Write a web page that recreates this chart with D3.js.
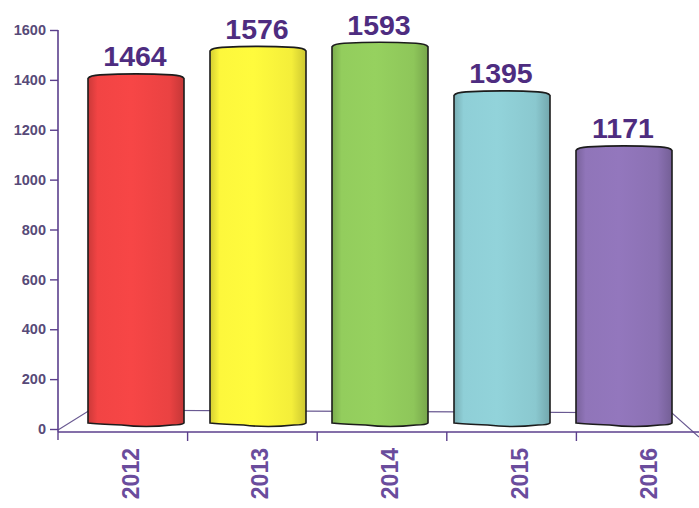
<!DOCTYPE html>
<html>
<head>
<meta charset="utf-8">
<script src="https://cdn.jsdelivr.net/npm/d3@7"></script>
<style>
  body { margin: 0; background: #fff; }
  svg { display: block; font-family: "Liberation Sans", Arial, sans-serif; }
</style>
</head>
<body>
<svg width="699" height="508"></svg>
<script>
// chart data
var years = ["2012", "2013", "2014", "2015", "2016"];
var counts = [1464, 1576, 1593, 1395, 1171];
var yTicks = [0, 200, 400, 600, 800, 1000, 1200, 1400, 1600];
var barColors = ["#ea4242", "#f4ee3a", "#8ec65a", "#8ac8cf", "#8b71b3"];

var svg = d3.select("svg");

// front plane (axes) and back plane (bars) scales
var y = d3.scaleLinear().domain([0, 1600]).range([429, 30]);
var yBar = d3.scaleLinear().domain([0, 1600]).range([435, 42]);
var x = d3.scaleBand().domain(years).range([58, 706]);
var xBar = d3.scalePoint().domain(years).range([136, 624]);
var barW = 96;

// gradients for cylinder look
var defs = svg.append("defs");
barColors.forEach(function(c, i) {
  var g = defs.append("linearGradient").attr("id", "grad" + i)
    .attr("x1", "0%").attr("x2", "100%");
  var base = d3.color(c);
  g.append("stop").attr("offset", "0%").attr("stop-color", base.darker(0.4));
  g.append("stop").attr("offset", "10%").attr("stop-color", base.brighter(0.1));
  g.append("stop").attr("offset", "45%").attr("stop-color", base.brighter(0.15));
  g.append("stop").attr("offset", "85%").attr("stop-color", base);
  g.append("stop").attr("offset", "100%").attr("stop-color", base.darker(0.5));
});

// floor of the 3d plot
svg.append("path")
  .attr("d", "M58,430 L90,410 L672,413 L699,437")
  .attr("fill", "none")
  .attr("stroke", "#6a5a92")
  .attr("stroke-width", 1.2);

// bars
var data = years.map(function(d, i) { return { year: d, value: counts[i], i: i }; });

function cyl(d) {
  var l = xBar(d.year) - barW / 2, r = l + barW;
  var t = yBar(d.value), b = yBar(0) - 12;
  return "M" + l + "," + b +
    " L" + l + "," + (t + 3) +
    " Q" + (l + 2) + "," + t + " " + (l + 12) + "," + (t - 0.5) +
    " Q" + (l + barW / 2) + "," + (t - 2.5) + " " + (r - 12) + "," + (t - 0.5) +
    " Q" + (r - 2) + "," + t + " " + r + "," + (t + 3) +
    " L" + r + "," + b +
    " Q" + (r - 2) + "," + (b + 2) + " " + (r - 12) + "," + (b + 2) +
    " Q" + (l + barW * 0.6) + "," + (b + 5) + " " + (l + barW * 0.35) + "," + (b + 2) +
    " Q" + (l + 8) + "," + (b + 1) + " " + l + "," + b + " Z";
}

svg.selectAll(".bar").data(data).enter().append("path")
  .attr("class", "bar")
  .attr("d", cyl)
  .attr("fill", function(d) { return "url(#grad" + d.i + ")"; })
  .attr("stroke", "#1c1c1c")
  .attr("stroke-width", 1.6);

// value labels
svg.selectAll(".val").data(data).enter().append("text")
  .attr("class", "val")
  .attr("x", function(d) { return xBar(d.year) - 1; })
  .attr("y", function(d) { return yBar(d.value) - 9; })
  .attr("text-anchor", "middle")
  .attr("font-size", 28.5)
  .attr("font-weight", "bold")
  .attr("fill", "#4e2c80")
  .text(function(d) { return d.value; });

// y axis
var yAxis = svg.append("g")
  .attr("transform", "translate(58,0)")
  .call(d3.axisLeft(y).tickValues(yTicks).tickFormat(d3.format("d"))
    .tickSize(8).tickSizeOuter(0).tickPadding(4));
yAxis.select(".domain").attr("stroke", "#5b3f8c").attr("stroke-width", 1.6)
  .attr("d", "M0,30V432");
yAxis.selectAll(".tick line").attr("stroke", "#5b3f8c").attr("stroke-width", 1.4);
yAxis.selectAll(".tick text")
  .attr("fill", "#574a78")
  .attr("font-size", 14.5)
  .attr("font-weight", "bold")
  .attr("font-family", "Liberation Sans, Arial, sans-serif");

// x axis
var xAxis = svg.append("g")
  .attr("transform", "translate(0,432)")
  .call(d3.axisBottom(x).tickSize(0).tickFormat(""));
xAxis.select(".domain").attr("stroke", "#5b3f8c").attr("stroke-width", 1.6)
  .attr("d", "M58,0H699");
xAxis.selectAll(".sep").data(years.slice(1)).enter().append("line")
  .attr("class", "sep")
  .attr("x1", function(d) { return x(d); })
  .attr("x2", function(d) { return x(d); })
  .attr("y1", 0).attr("y2", 9)
  .attr("stroke", "#5b3f8c").attr("stroke-width", 1.4);
xAxis.append("line").attr("x1", 58).attr("x2", 58).attr("y1", 0).attr("y2", 8)
  .attr("stroke", "#5b3f8c").attr("stroke-width", 1.4);

// year labels, rotated
svg.selectAll(".yr").data(years).enter().append("text")
  .attr("class", "yr")
  .attr("transform", function(d) {
    return "translate(" + (x(d) + x.bandwidth() / 2 + 8) + ",448) rotate(-90)";
  })
  .attr("dy", "0.35em")
  .attr("text-anchor", "end")
  .attr("font-size", 23)
  .attr("font-weight", "bold")
  .attr("fill", "#6a4c9c")
  .text(function(d) { return d; });
</script>
</body>
</html>
